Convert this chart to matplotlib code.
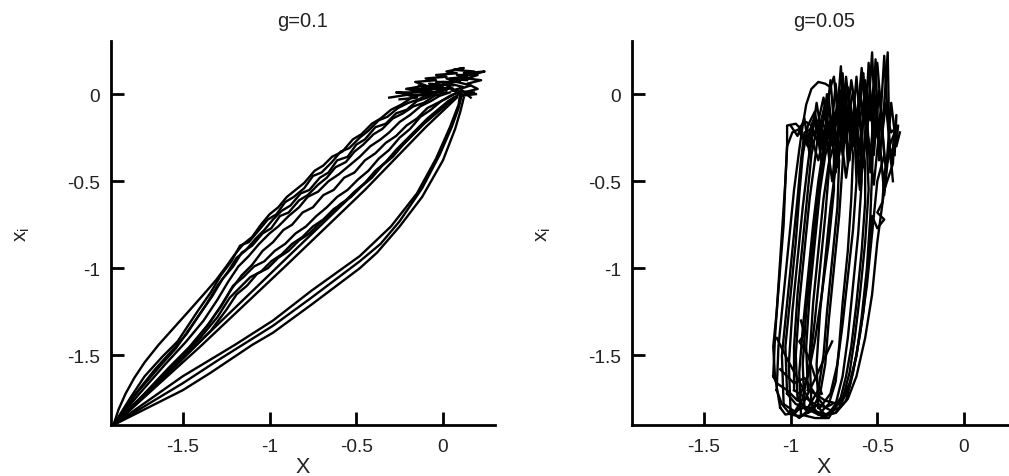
import matplotlib
matplotlib.use("Agg")
import matplotlib.pyplot as plt

plt.rcParams['font.family'] = ['Liberation Sans', 'DejaVu Sans']
plt.rcParams['mathtext.default'] = 'regular'

# ---------------- labels / ticks ----------------
titles = ["g=0.1", "g=0.05"]
xticks = [-1.5, -1, -0.5, 0]
yticks = [0, -0.5, -1, -1.5]
xtick_labels = ["-1.5", "-1", "-0.5", "0"]
ytick_labels = ["0", "-0.5", "-1", "-1.5"]

# ---------------- data: left panel (g=0.1) ----------------
left_U1 = [(-1.90,-1.90),(-1.87,-1.81),(-1.83,-1.72),(-1.78,-1.63),(-1.72,-1.54),(-1.64,-1.44),(-1.55,-1.34),
           (-1.46,-1.24),(-1.38,-1.15),(-1.31,-1.07),(-1.25,-0.99),(-1.20,-0.92),(-1.15,-0.86),(-1.10,-0.82),
           (-1.05,-0.75),(-1.00,-0.69),(-0.95,-0.65),(-0.90,-0.59),(-0.85,-0.55),(-0.80,-0.51),(-0.74,-0.44),
           (-0.69,-0.41),(-0.64,-0.36),(-0.58,-0.33),(-0.52,-0.26),(-0.47,-0.23),(-0.41,-0.17),(-0.36,-0.14),
           (-0.30,-0.09),(-0.24,-0.06),(-0.18,-0.02),(-0.12,0.00),(-0.06,0.03),(0.00,0.05)]
left_U2 = [(-1.90,-1.90),(-1.80,-1.74),(-1.72,-1.62),(-1.62,-1.51),(-1.53,-1.42),(-1.47,-1.33),(-1.41,-1.24),
           (-1.34,-1.14),(-1.28,-1.04),(-1.22,-0.96),(-1.17,-0.87),(-1.12,-0.85),(-1.06,-0.78),(-1.01,-0.72),
           (-0.96,-0.69),(-0.91,-0.62),(-0.86,-0.59),(-0.80,-0.54),(-0.75,-0.47),(-0.70,-0.45),(-0.64,-0.39),
           (-0.59,-0.33),(-0.54,-0.31),(-0.48,-0.25),(-0.43,-0.21),(-0.37,-0.15),(-0.32,-0.13),(-0.26,-0.08),
           (-0.20,-0.05),(-0.14,-0.03),(-0.08,0.00),(-0.02,0.02),(0.04,0.04)]
left_U3 = [(-1.90,-1.90),(-1.78,-1.73),(-1.66,-1.58),(-1.56,-1.47),(-1.48,-1.38),(-1.42,-1.29),(-1.36,-1.20),
           (-1.30,-1.10),(-1.24,-1.02),(-1.19,-0.94),(-1.14,-0.90),(-1.08,-0.83),(-1.03,-0.78),(-0.98,-0.72),
           (-0.93,-0.67),(-0.88,-0.64),(-0.82,-0.57),(-0.77,-0.55),(-0.71,-0.48),(-0.66,-0.45),(-0.61,-0.38),
           (-0.55,-0.36),(-0.50,-0.29),(-0.45,-0.26),(-0.39,-0.19),(-0.33,-0.17),(-0.27,-0.11),(-0.21,-0.09),
           (-0.15,-0.04),(-0.09,-0.02),(-0.03,0.01),(0.03,0.03)]
left_U4 = [(-1.90,-1.90),(-1.76,-1.71),(-1.63,-1.56),(-1.54,-1.46),(-1.47,-1.36),(-1.40,-1.26),(-1.33,-1.16),
           (-1.27,-1.06),(-1.21,-0.99),(-1.16,-0.91),(-1.10,-0.87),(-1.04,-0.80),(-0.99,-0.77),(-0.94,-0.70),
           (-0.89,-0.68),(-0.83,-0.61),(-0.78,-0.58),(-0.72,-0.52),(-0.67,-0.48),(-0.62,-0.42),(-0.56,-0.39),
           (-0.51,-0.33),(-0.46,-0.29),(-0.40,-0.23),(-0.35,-0.20),(-0.29,-0.14),(-0.23,-0.11),(-0.17,-0.07),
           (-0.11,-0.05),(-0.05,-0.01),(0.02,0.01)]
left_M1 = [(-1.90,-1.90),(-1.75,-1.72),(-1.60,-1.55),(-1.48,-1.42),(-1.38,-1.30),(-1.30,-1.18),(-1.24,-1.08),
           (-1.18,-0.99),(-1.12,-0.93),(-1.06,-0.86),(-1.00,-0.80),(-0.95,-0.76),(-0.89,-0.70),(-0.83,-0.65),
           (-0.78,-0.59),(-0.72,-0.56),(-0.66,-0.50),(-0.60,-0.46),(-0.54,-0.41),(-0.48,-0.36),(-0.42,-0.30),
           (-0.36,-0.26),(-0.31,-0.22),(-0.25,-0.16),(-0.19,-0.12),(-0.13,-0.07),(-0.07,-0.04),(-0.02,-0.01),
           (0.04,0.01)]
left_M2 = [(-1.90,-1.90),(-1.74,-1.74),(-1.58,-1.57),(-1.46,-1.45),(-1.36,-1.33),(-1.28,-1.22),(-1.22,-1.12),
           (-1.16,-1.04),(-1.10,-0.98),(-1.04,-0.90),(-0.98,-0.85),(-0.92,-0.78),(-0.87,-0.75),(-0.81,-0.68),
           (-0.75,-0.65),(-0.69,-0.58),(-0.63,-0.55),(-0.57,-0.48),(-0.51,-0.45),(-0.45,-0.38),(-0.39,-0.34),
           (-0.33,-0.28),(-0.27,-0.24),(-0.21,-0.18),(-0.15,-0.14),(-0.09,-0.08),(-0.03,-0.05),(0.03,-0.02),
           (0.08,0.01)]
left_M3 = [(-1.90,-1.90),(-1.70,-1.70),(-1.50,-1.50),(-1.35,-1.32),(-1.27,-1.20),(-1.21,-1.10),(-1.15,-1.05),
           (-1.09,-0.99),(-1.03,-0.96),(-0.97,-0.90),(-0.91,-0.86),(-0.85,-0.80),(-0.79,-0.76),(-0.73,-0.70),
           (-0.67,-0.65),(-0.61,-0.59),(-0.55,-0.55),(-0.49,-0.49),(-0.43,-0.44),(-0.37,-0.37),(-0.31,-0.32),
           (-0.25,-0.25),(-0.19,-0.20),(-0.13,-0.13),(-0.07,-0.09),(-0.01,-0.04),(0.04,-0.01),(0.09,0.01)]
left_M4 = [(-1.90,-1.90),(-1.68,-1.70),(-1.48,-1.50),(-1.34,-1.36),(-1.25,-1.24),(-1.19,-1.15),(-1.13,-1.10),
           (-1.07,-1.03),(-1.01,-1.00),(-0.95,-0.94),(-0.89,-0.90),(-0.83,-0.84),(-0.77,-0.80),(-0.71,-0.74),
           (-0.65,-0.69),(-0.59,-0.63),(-0.53,-0.59),(-0.47,-0.53),(-0.41,-0.48),(-0.35,-0.41),(-0.29,-0.36),
           (-0.23,-0.29),(-0.17,-0.23),(-0.11,-0.17),(-0.05,-0.12),(0.01,-0.07),(0.06,-0.03),(0.10,0.01)]
left_M5 = [(-1.90,-1.90),(-1.72,-1.73),(-1.54,-1.55),(-1.40,-1.40),(-1.30,-1.28),(-1.23,-1.17),(-1.17,-1.11),
           (-1.11,-1.05),(-1.05,-1.02),(-0.99,-0.96),(-0.93,-0.92),(-0.87,-0.86),(-0.81,-0.82),(-0.75,-0.76),
           (-0.69,-0.72),(-0.63,-0.66),(-0.57,-0.62),(-0.51,-0.56),(-0.45,-0.51),(-0.39,-0.44),(-0.33,-0.39),
           (-0.27,-0.32),(-0.21,-0.26),(-0.15,-0.20),(-0.09,-0.14),(-0.03,-0.09),(0.03,-0.04),(0.08,-0.01)]
left_S1 = [(-1.90,-1.90),(-1.40,-1.42),(-0.90,-0.94),(-0.45,-0.51),(-0.10,-0.16),(0.06,-0.02)]
left_S2 = [(-1.90,-1.90),(-1.40,-1.45),(-0.90,-0.98),(-0.45,-0.55),(-0.10,-0.19),(0.08,-0.02)]
left_L1 = [(-1.90,-1.90),(-1.70,-1.80),(-1.50,-1.70),(-1.34,-1.60),(-1.10,-1.44),(-0.98,-1.37),(-0.76,-1.21),
           (-0.64,-1.12),(-0.48,-1.00),(-0.38,-0.91),(-0.25,-0.76),(-0.12,-0.59),(0.00,-0.38),(0.07,-0.20),
           (0.10,-0.10),(0.12,-0.02)]
left_L2 = [(-1.90,-1.90),(-1.70,-1.78),(-1.50,-1.66),(-1.30,-1.53),(-0.98,-1.33),(-0.76,-1.17),(-0.48,-0.96),
           (-0.36,-0.86),(-0.25,-0.73),(-0.12,-0.54),(-0.02,-0.35),(0.05,-0.19),(0.09,-0.08),(0.11,0.00)]
left_L3 = [(-1.90,-1.90),(-1.50,-1.62),(-1.20,-1.44),(-0.98,-1.30),(-0.76,-1.13),(-0.48,-0.93),(-0.30,-0.76),
           (-0.15,-0.57),(-0.04,-0.37),(0.04,-0.19),(0.09,-0.06),(0.10,0.01)]
left_K1 = [(-0.31,-0.02),(-0.18,0.00),(-0.27,0.01),(-0.12,0.01),(-0.21,0.03),(-0.06,0.03),(-0.14,0.05),
           (0.00,0.04),(-0.08,0.06),(0.06,0.05),(0.00,0.07),(0.12,0.04),(0.05,0.02),(0.18,0.01),(0.10,-0.01),
           (0.19,0.00)]
left_K2 = [(-0.21,0.03),(-0.10,0.05),(-0.16,0.07),(-0.04,0.08),(-0.10,0.09),(0.02,0.10),(-0.04,0.11),
           (0.08,0.12),(0.02,0.13),(0.12,0.15),(0.06,0.14),(0.18,0.13),(0.12,0.12),(0.24,0.13),(0.16,0.11)]
left_K3 = [(-0.25,-0.03),(-0.15,-0.02),(-0.22,0.00),(-0.08,-0.01),(-0.14,0.02),(0.00,0.01),(-0.06,0.04),
           (0.06,0.03),(0.00,0.06),(0.10,0.08),(0.04,0.09),(0.14,0.10),(0.08,0.07),(0.16,0.05),(0.10,0.03),
           (0.16,-0.02)]
left_K4 = [(-0.16,0.02),(-0.06,0.00),(-0.12,0.04),(0.02,0.02),(-0.04,0.07),(0.08,0.07),(0.02,0.09),
           (0.14,0.08),(0.08,0.11),(0.20,0.11),(0.14,0.09),(0.22,0.08),(0.14,0.06),(0.20,0.03),(0.12,0.01)]

# ---------------- data: right panel (g=0.05) ----------------
right_R1 = [(-1.06,-1.80),(-1.09,-1.62),(-1.10,-1.45),(-1.08,-1.25),(-1.06,-1.00),(-1.04,-0.75),(-1.03,-0.50),
            (-1.02,-0.30),(-1.02,-0.18),(-0.97,-0.17),(-0.95,-0.19),(-0.91,-0.16),(-0.88,-0.18),(-0.84,-0.15),
            (-0.80,-0.19),(-0.77,-0.23),(-0.78,-0.45),(-0.80,-0.70),(-0.83,-1.00),(-0.86,-1.30),(-0.89,-1.55),
            (-0.93,-1.75),(-0.98,-1.83),(-1.03,-1.84),(-1.06,-1.80)]
right_R2 = [(-1.08,-1.70),(-1.07,-1.45),(-1.04,-1.15),(-1.01,-0.85),(-0.98,-0.55),(-0.95,-0.32),(-0.93,-0.18),
            (-0.91,-0.06),(-0.88,0.03),(-0.84,0.07),(-0.80,0.06),(-0.77,0.04),(-0.75,0.10),(-0.73,-0.10),
            (-0.71,0.16),(-0.69,-0.20),(-0.70,-0.40),(-0.72,-0.70),(-0.75,-1.00),(-0.78,-1.30),(-0.80,-1.55),
            (-0.83,-1.72),(-0.88,-1.82),(-0.94,-1.85),(-1.00,-1.84),(-1.05,-1.78),(-1.08,-1.70)]
right_R3 = [(-1.04,-1.78),(-1.05,-1.50),(-1.02,-1.20),(-0.99,-0.90),(-0.96,-0.60),(-0.94,-0.38),(-0.92,-0.22),
            (-0.88,-0.20),(-0.85,-0.26),(-0.80,-0.12),(-0.77,-0.30),(-0.73,-0.05),(-0.69,-0.28),(-0.66,-0.15),
            (-0.64,-0.35),(-0.65,-0.60),(-0.67,-0.90),(-0.70,-1.20),(-0.72,-1.45),(-0.74,-1.65),(-0.78,-1.78),
            (-0.84,-1.84),(-0.92,-1.80),(-0.98,-1.82),(-1.04,-1.78)]
right_R4 = [(-1.00,-1.82),(-1.01,-1.55),(-0.99,-1.25),(-0.96,-0.95),(-0.93,-0.65),(-0.90,-0.40),(-0.88,-0.25),
            (-0.84,-0.18),(-0.81,-0.32),(-0.78,-0.08),(-0.75,-0.25),(-0.71,0.02),(-0.68,-0.22),(-0.63,-0.10),
            (-0.60,-0.30),(-0.59,-0.50),(-0.61,-0.80),(-0.64,-1.10),(-0.67,-1.40),(-0.70,-1.62),(-0.74,-1.78),
            (-0.80,-1.86),(-0.88,-1.80),(-0.95,-1.86),(-1.00,-1.82)]
right_R5 = [(-0.96,-1.75),(-0.97,-1.50),(-0.95,-1.20),(-0.92,-0.90),(-0.89,-0.60),(-0.86,-0.38),(-0.84,-0.22),
            (-0.80,-0.05),(-0.77,-0.28),(-0.74,0.06),(-0.70,-0.35),(-0.66,-0.05),(-0.62,-0.25),(-0.58,0.12),
            (-0.56,-0.30),(-0.55,-0.55),(-0.57,-0.85),(-0.60,-1.15),(-0.63,-1.40),(-0.66,-1.60),(-0.70,-1.75),
            (-0.76,-1.82),(-0.84,-1.78),(-0.90,-1.83),(-0.96,-1.75)]
right_R6 = [(-0.92,-1.80),(-0.93,-1.55),(-0.91,-1.25),(-0.88,-0.95),(-0.85,-0.65),(-0.82,-0.42),(-0.79,-0.25),
            (-0.75,-0.15),(-0.72,-0.35),(-0.68,0.10),(-0.64,-0.30),(-0.60,0.00),(-0.56,-0.22),(-0.53,0.24),
            (-0.51,-0.25),(-0.48,-0.10),(-0.46,-0.35),(-0.50,-0.50),(-0.53,-0.80),(-0.56,-1.10),(-0.60,-1.38),
            (-0.64,-1.60),(-0.68,-1.76),(-0.74,-1.83),(-0.82,-1.85),(-0.88,-1.80),(-0.92,-1.80)]
right_R7 = [(-0.88,-1.78),(-0.89,-1.50),(-0.87,-1.20),(-0.84,-0.90),(-0.81,-0.60),(-0.78,-0.40),(-0.74,-0.25),
            (-0.70,-0.20),(-0.66,-0.05),(-0.63,-0.30),(-0.59,0.15),(-0.56,-0.20),(-0.52,0.05),(-0.49,-0.28),
            (-0.46,0.22),(-0.44,-0.15),(-0.42,-0.22),(-0.38,-0.18),(-0.39,-0.28),(-0.43,-0.35),(-0.46,-0.45),
            (-0.47,-0.62),(-0.50,-0.68),(-0.46,-0.72),(-0.50,-0.77),(-0.53,-0.70),(-0.55,-0.95),(-0.58,-1.25),
            (-0.62,-1.50),(-0.66,-1.68),(-0.72,-1.80),(-0.80,-1.84),(-0.86,-1.82),(-0.88,-1.78)]
right_R8 = [(-1.10,-1.62),(-1.09,-1.40),(-1.07,-1.10),(-1.05,-0.80),(-1.03,-0.50),(-1.02,-0.30),(-0.99,-0.22),
            (-0.95,-0.20),(-0.91,-0.28),(-0.87,-0.15),(-0.83,-0.25),(-0.79,-0.18),(-0.75,-0.32),(-0.75,-0.55),
            (-0.78,-0.85),(-0.82,-1.15),(-0.86,-1.42),(-0.90,-1.62),(-0.96,-1.76),(-1.02,-1.70),(-1.08,-1.66),
            (-1.10,-1.62)]
right_R9 = [(-0.84,-1.80),(-0.85,-1.55),(-0.83,-1.25),(-0.80,-0.95),(-0.77,-0.65),(-0.74,-0.42),(-0.71,-0.28),
            (-0.67,-0.18),(-0.64,0.02),(-0.60,-0.35),(-0.57,0.08),(-0.54,-0.15),(-0.50,0.18),(-0.47,-0.20),
            (-0.44,0.24),(-0.43,-0.30),(-0.40,-0.22),(-0.41,-0.40),(-0.46,-0.55),(-0.50,-0.85),(-0.53,-1.15),
            (-0.57,-1.40),(-0.62,-1.62),(-0.67,-1.75),(-0.74,-1.83),(-0.80,-1.84),(-0.84,-1.80)]
right_R10 = [(-1.02,-1.72),(-1.03,-1.45),(-1.00,-1.15),(-0.97,-0.85),(-0.95,-0.58),(-0.93,-0.35),(-0.90,-0.18),
             (-0.86,-0.10),(-0.83,-0.30),(-0.79,0.00),(-0.76,-0.20),(-0.72,-0.38),(-0.73,-0.65),(-0.76,-0.95),
             (-0.79,-1.25),(-0.81,-1.50),(-0.84,-1.70),(-0.90,-1.80),(-0.97,-1.78),(-1.02,-1.72)]
right_R11 = [(-0.98,-1.70),(-0.98,-1.45),(-0.96,-1.15),(-0.93,-0.85),(-0.90,-0.55),(-0.88,-0.35),(-0.85,-0.20),
             (-0.81,-0.02),(-0.78,-0.22),(-0.74,-0.10),(-0.70,-0.30),(-0.67,0.04),(-0.63,-0.25),(-0.62,-0.50),
             (-0.64,-0.78),(-0.67,-1.05),(-0.70,-1.32),(-0.73,-1.55),(-0.77,-1.72),(-0.83,-1.80),(-0.92,-1.74),
             (-0.98,-1.70)]
right_R12 = [(-0.94,-1.84),(-0.95,-1.60),(-0.93,-1.35),(-0.90,-1.05),(-0.87,-0.75),(-0.84,-0.50),(-0.81,-0.30),
             (-0.77,-0.15),(-0.73,-0.28),(-0.69,0.05),(-0.65,-0.32),(-0.61,-0.08),(-0.57,-0.40),(-0.57,-0.62),
             (-0.59,-0.90),(-0.62,-1.20),(-0.65,-1.45),(-0.68,-1.62),(-0.71,-1.74),(-0.78,-1.86),(-0.86,-1.86),
             (-0.94,-1.84)]
right_R13 = [(-0.90,-1.70),(-0.91,-1.45),(-0.89,-1.15),(-0.86,-0.85),(-0.83,-0.55),(-0.80,-0.35),(-0.76,-0.22),
             (-0.72,-0.05),(-0.69,-0.28),(-0.65,0.08),(-0.61,-0.18),(-0.58,-0.05),(-0.54,-0.35),(-0.52,-0.15),
             (-0.53,-0.45),(-0.54,-0.70),(-0.56,-1.00),(-0.59,-1.28),(-0.62,-1.50),(-0.66,-1.66),(-0.72,-1.78),
             (-0.80,-1.76),(-0.86,-1.72),(-0.90,-1.70)]
right_T1 = [(-0.95,-0.22),(-0.90,-0.30),(-0.86,-0.12),(-0.82,-0.40),(-0.78,-0.02),(-0.74,-0.45),(-0.70,0.12),
            (-0.67,-0.40),(-0.63,-0.12),(-0.60,-0.48),(-0.57,0.05),(-0.54,-0.45),(-0.51,0.20),(-0.49,-0.38),
            (-0.45,-0.05),(-0.42,-0.40),(-0.39,-0.12),(-0.40,-0.35)]
right_T2 = [(-1.00,-0.18),(-0.96,-0.24),(-0.92,-0.14),(-0.89,-0.35),(-0.85,-0.05),(-0.81,-0.30),(-0.77,0.08),
            (-0.73,-0.42),(-0.69,-0.10),(-0.66,-0.38),(-0.62,0.10),(-0.58,-0.42),(-0.55,0.18),(-0.52,-0.35),
            (-0.49,0.02),(-0.45,-0.45),(-0.42,-0.05),(-0.39,-0.30),(-0.37,-0.22)]
right_T3 = [(-0.88,-0.25),(-0.84,-0.38),(-0.80,-0.20),(-0.76,-0.50),(-0.72,-0.15),(-0.68,-0.48),(-0.64,-0.18),
            (-0.60,-0.55),(-0.56,-0.20),(-0.52,-0.52),(-0.49,-0.22),(-0.46,-0.58),(-0.43,-0.28),(-0.41,-0.50)]
right_C1 = [(-1.08,-1.40),(-1.02,-1.52),(-0.95,-1.65),(-0.88,-1.78),(-0.84,-1.84)]
right_C2 = [(-0.76,-1.42),(-0.82,-1.55),(-0.88,-1.68),(-0.93,-1.78),(-0.98,-1.84)]
right_C3 = [(-1.06,-1.58),(-0.98,-1.66),(-0.92,-1.63),(-0.86,-1.72),(-0.80,-1.80),(-0.76,-1.78)]
right_C4 = [(-0.94,-1.30),(-0.92,-1.38),(-0.95,-1.42),(-0.90,-1.50),(-0.86,-1.62),(-0.82,-1.72)]

left_curves = [left_U1, left_U2, left_U3, left_U4, left_M1, left_M2, left_M3, left_M4, left_M5,
               left_S1, left_S2, left_L1, left_L2, left_L3, left_K1, left_K2, left_K3, left_K4]
right_curves = [right_R1, right_R2, right_R3, right_R4, right_R5, right_R6, right_R7, right_R8,
                right_R9, right_R10, right_R11, right_R12, right_R13, right_T1, right_T2, right_T3,
                right_C1, right_C2, right_C3, right_C4]

xlim = (-1.914, 0.30)
ylim = (-1.90, 0.305)

fig = plt.figure(figsize=(10.09, 4.77), dpi=100)
ax_l = fig.add_axes([0.110, 0.1069, 0.3806, 0.805])
ax_r = fig.add_axes([0.6264, 0.1069, 0.3806, 0.805])

text_color = '#222222'
for ax, curves, title in [(ax_l, left_curves, titles[0]), (ax_r, right_curves, titles[1])]:
    for c in curves:
        xs = [p[0] for p in c]
        ys = [p[1] for p in c]
        ax.plot(xs, ys, color='black', lw=1.7, solid_joinstyle='round')
    ax.set_xlim(*xlim)
    ax.set_ylim(*ylim)
    for s in ['top', 'right']:
        ax.spines[s].set_visible(False)
    for s in ['left', 'bottom']:
        ax.spines[s].set_linewidth(2.0)
        ax.spines[s].set_color('black')
    ax.set_xticks(xticks)
    ax.set_xticklabels(xtick_labels)
    ax.set_yticks(yticks)
    ax.set_yticklabels(ytick_labels)
    ax.tick_params(direction='in', length=9.5, width=2.0, pad=8, labelsize=13.8,
                   labelcolor=text_color, color='black')
    ax.tick_params(axis='x', pad=9)
    ax.set_title(title, fontsize=14.5, color=text_color, pad=11)
    ax.set_xlabel('X', fontsize=15.5, color=text_color, labelpad=1)
    ax.set_ylabel('$x_i$', fontsize=15, color=text_color)
    ax.yaxis.set_label_coords(-0.205, 0.5)

fig.savefig('out.png', dpi=100)
